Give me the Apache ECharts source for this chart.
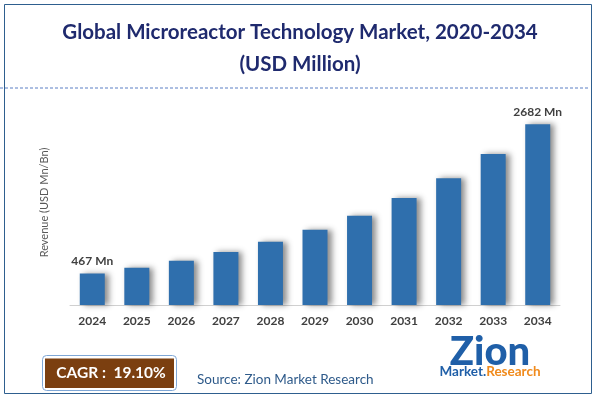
<!DOCTYPE html>
<html>
<head>
<meta charset="utf-8">
<script src="https://cdn.jsdelivr.net/npm/echarts@6/dist/echarts.min.js"></script>
<style>
  html, body { margin: 0; padding: 0; background: #fff; }
  #chart { width: 596px; height: 399px; }
</style>
</head>
<body>
<div id="chart"></div>
<script>
const years = ['2024', '2025', '2026', '2027', '2028', '2029', '2030', '2031', '2032', '2033', '2034'];
const revenue = [467, 553, 656, 785, 937, 1115, 1322, 1588, 1880, 2240, 2682];
const shownLabels = { 0: '467 Mn', 10: '2682 Mn' };

const FONT = 'Lato';
const chart = echarts.init(document.getElementById('chart'), null, { renderer: 'canvas' });

const option = {
  backgroundColor: '#fff',
  animation: false,
  grid: { left: 70, right: 36, top: 100, bottom: 94 },
  xAxis: {
    type: 'category',
    data: years,
    axisLine: { lineStyle: { color: '#d0d0d0', width: 1 } },
    axisTick: { show: false },
    axisLabel: { color: '#404040', fontFamily: FONT, fontWeight: 'bold', fontSize: 12, margin: 10 }
  },
  yAxis: {
    type: 'value',
    min: 0,
    max: 3040,
    name: 'Revenue (USD Mn/Bn)',
    nameLocation: 'middle',
    nameGap: 20,
    nameTextStyle: { color: '#595959', fontFamily: FONT, fontSize: 11 },
    axisLine: { show: false },
    axisTick: { show: false },
    axisLabel: { show: false },
    splitLine: { show: false }
  },
  series: [{
    type: 'bar',
    data: revenue,
    barWidth: 25,
    itemStyle: {
      color: '#2f6fad',
      shadowColor: 'rgba(0,0,0,0.45)',
      shadowBlur: 6,
      shadowOffsetX: 4,
      shadowOffsetY: 0
    },
    label: {
      show: true,
      position: 'top',
      distance: 6,
      color: '#404040',
      fontFamily: FONT,
      fontWeight: 'bold',
      fontSize: 12,
      formatter: p => shownLabels[p.dataIndex] || ''
    }
  }],
  graphic: [
    { type: 'rect', shape: { x: 4.5, y: 4.5, width: 587, height: 389 },
      style: { fill: 'none', stroke: '#2e5f8f', lineWidth: 1 }, z: 10 },
    { type: 'text', x: 300, y: 32,
      style: { text: 'Global Microreactor Technology Market, 2020-2034', fill: '#1f2a6e',
        font: 'bold 20.5px ' + FONT, align: 'center', verticalAlign: 'middle' } },
    { type: 'text', x: 300, y: 64,
      style: { text: '(USD Million)', fill: '#1f2a6e',
        font: 'bold 20.5px ' + FONT, align: 'center', verticalAlign: 'middle' } },
    { type: 'line', shape: { x1: 0, y1: 88, x2: 589, y2: 88 },
      style: { stroke: '#5b7fc4', lineWidth: 1, lineDash: [3, 2] } },
    { type: 'rect', shape: { x: 42.5, y: 355.5, width: 134, height: 35, r: 4 },
      style: { fill: '#fff', stroke: '#7fa7d6', lineWidth: 1 } },
    { type: 'rect', shape: { x: 45, y: 358.5, width: 129, height: 29.5 },
      style: { fill: '#7b3f10' } },
    { type: 'text', x: 111, y: 373,
      style: { text: 'CAGR :  19.10%', fill: '#fff', font: 'bold 15.5px ' + FONT,
        align: 'center', verticalAlign: 'middle' } },
    { type: 'text', x: 197, y: 380,
      style: { text: 'Source: Zion Market Research', fill: '#2e5a8a', font: '13.5px ' + FONT,
        align: 'left', verticalAlign: 'middle' } },
    { type: 'text', x: 490, y: 352,
      style: { text: 'Zion', fill: '#1f5fa8', font: '900 40px ' + FONT,
        align: 'center', verticalAlign: 'middle' } },
    { type: 'text', x: 490, y: 372,
      style: { rich: {
          a: { fill: '#1f5fa8', font: 'bold 13.5px ' + FONT },
          b: { fill: '#f08a1c', font: 'bold 13.5px ' + FONT }
        },
        text: '{a|Market.}{b|Research}', align: 'center', verticalAlign: 'middle' } }
  ]
};

chart.setOption(option);
</script>
</body>
</html>
